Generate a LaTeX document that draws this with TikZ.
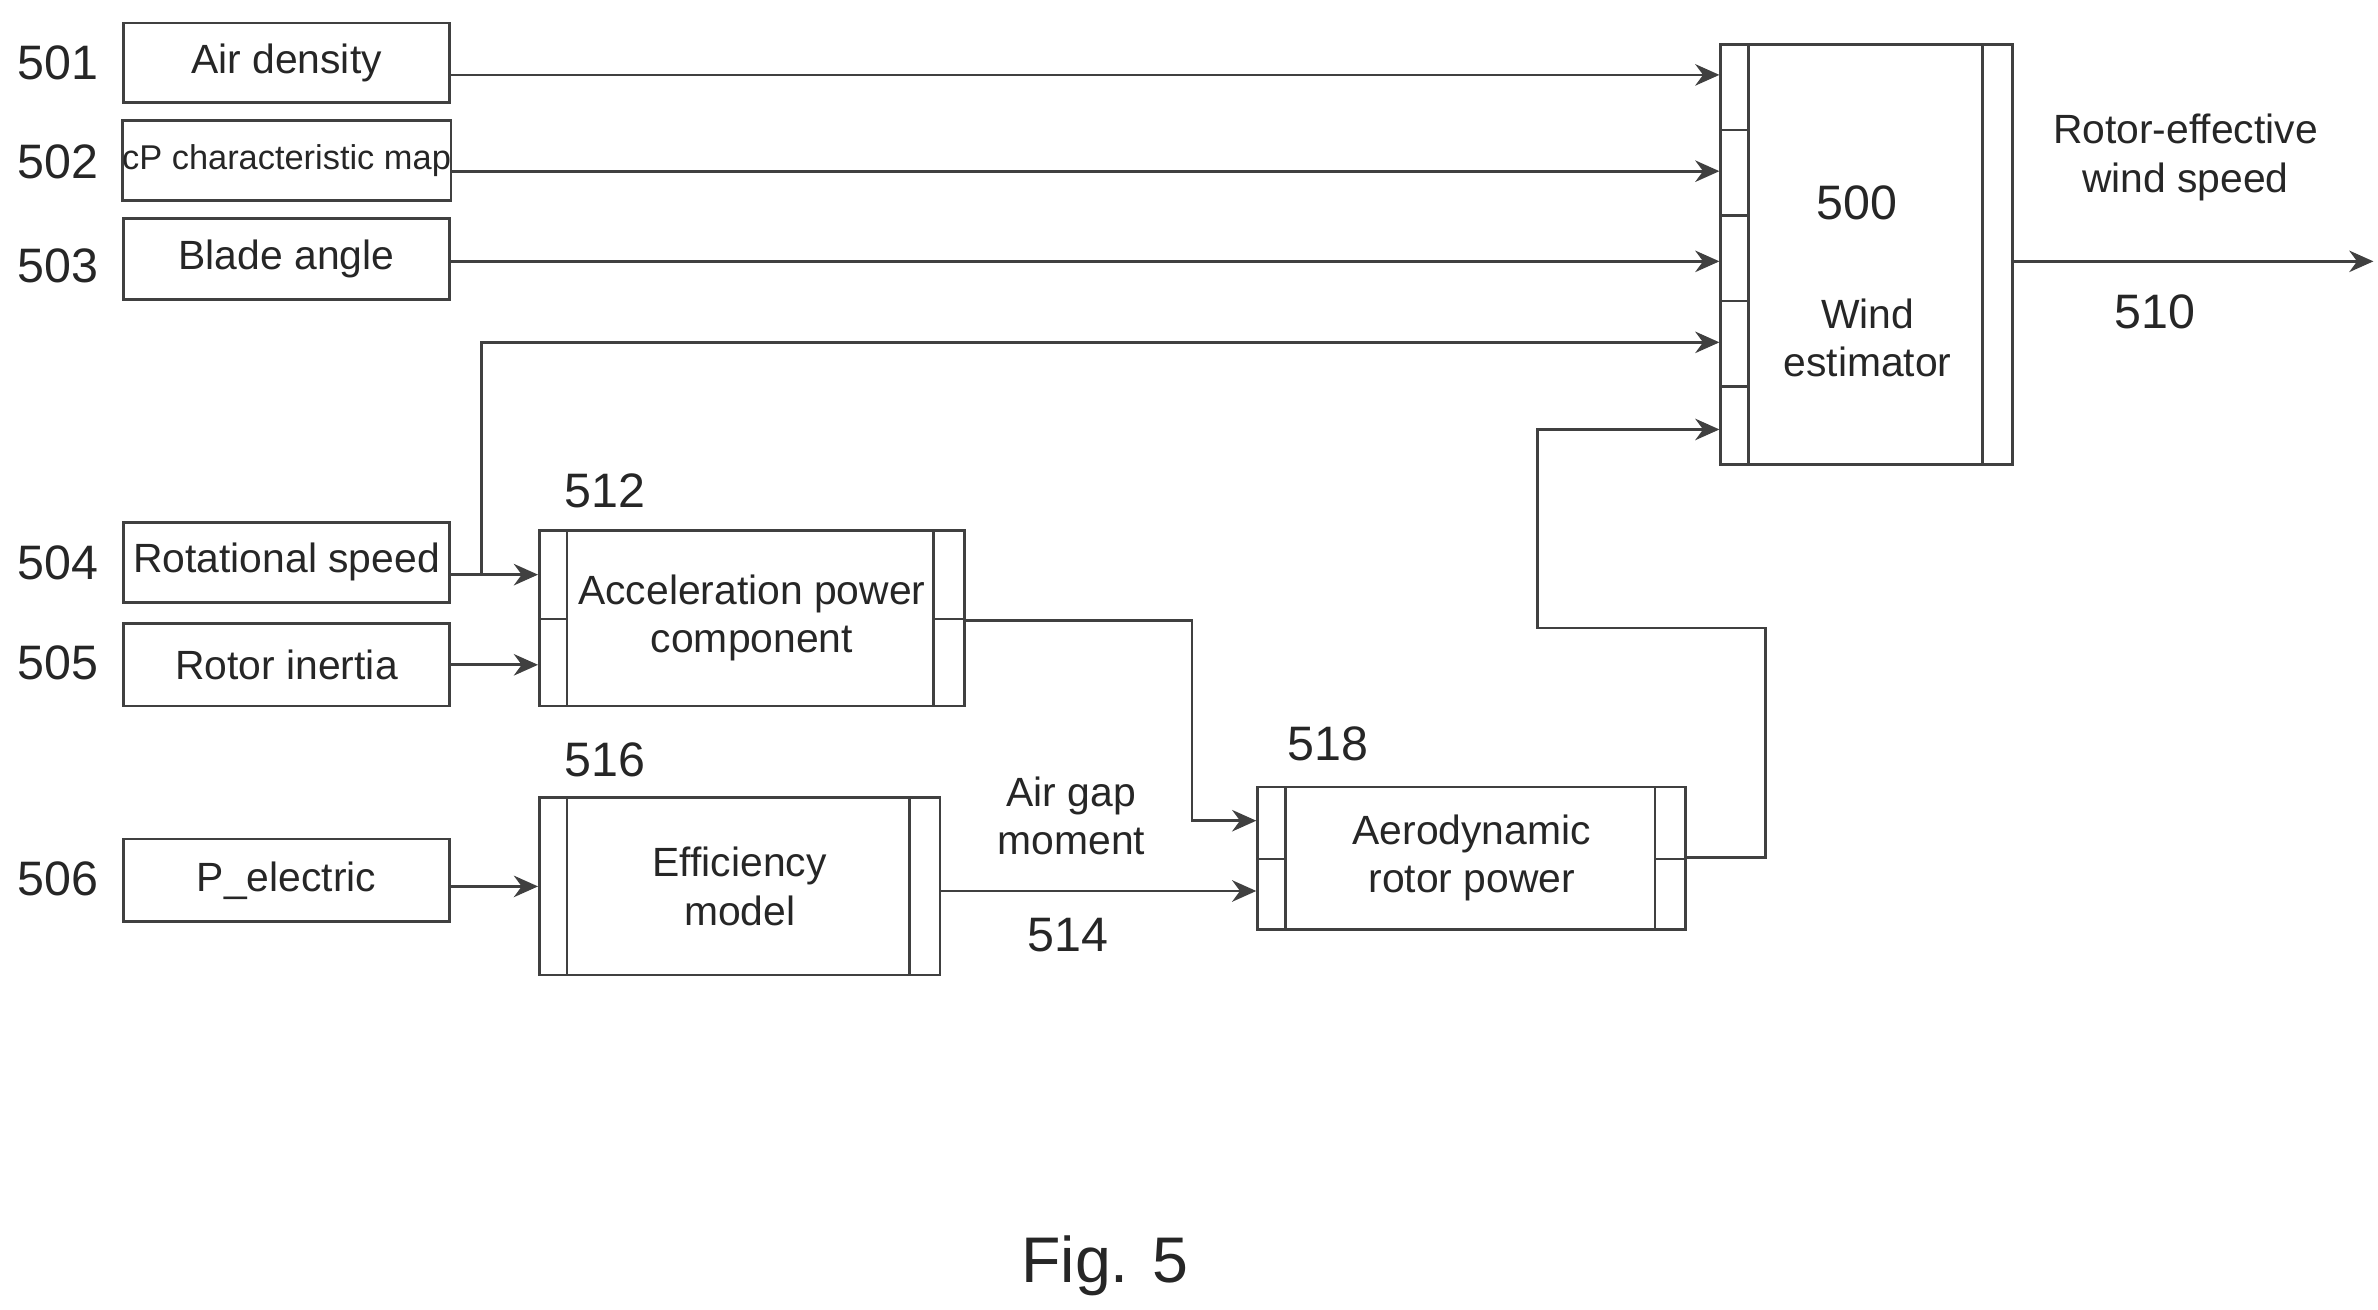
\documentclass[tikz,border=0pt]{standalone}
\usepackage{fontspec}
\setmainfont{Liberation Sans}
\usetikzlibrary{arrows.meta}

\begin{document}
\begin{tikzpicture}[x=0.01cm,y=-0.01cm,
    line width=0.5pt, draw=black!75,
    txt/.style={inner sep=0pt,font=\fontsize{7.6}{9}\selectfont,align=center,text=black!85},
    box/.style={txt,draw=black!75,rectangle},
    num/.style={font=\fontsize{9}{11}\selectfont,text=black!85},
    arr/.style={-{Stealth[length=4.5pt,width=4pt]}}]
    \useasboundingbox (0,0) rectangle (1556,857);
    \begin{scope}[every node/.style={box,minimum width=2.13cm}]
        \node[minimum height=0.52cm] (air) at (187.5,41) {Air density};
        \node[minimum height=0.52cm,font=\fontsize{6.4}{8}\selectfont] (cp) at (187.5,105) {cP characteristic map};
        \node[minimum height=0.53cm] (blade) at (187.5,169.5) {Blade angle};
        \node[minimum height=0.52cm] (rot) at (187.5,368) {Rotational speed};
        \node[minimum height=0.54cm] (inertia) at (187.5,435) {Rotor inertia};
        \node[minimum height=0.54cm] (pel) at (187.5,576) {P\_electric};
    \end{scope}
    \node[num] at (38,41) {501};
    \node[num] at (38,106) {502};
    \node[num] at (38,174) {503};
    \node[num] at (38,368) {504};
    \node[num] at (38,434) {505};
    \node[num] at (38,575) {506};
    % blocks
    \node[box,minimum width=1.91cm,minimum height=2.75cm] (wind) at (1221.5,166.5) {};
    \draw (1144,29) -- (1144,304) (1297,29) -- (1297,304);
    \foreach \y in {85,141,197,253} \draw (1126,\y) -- (1144,\y);
    \node[num] at (1215,133) {500};
    \node[txt] at (1222,221) {Wind\\estimator};
    \node[box,minimum width=2.78cm,minimum height=1.15cm] (acc) at (492,404.5) {Acceleration power\\component};
    \draw (371,347) -- (371,462) (611,347) -- (611,462) (353,405) -- (371,405) (611,405) -- (631,405);
    \node[num] at (396,321) {512};
    \node[box,minimum width=2.62cm,minimum height=1.16cm] (eff) at (484,580) {Efficiency\\model};
    \draw (371,522) -- (371,638) (595,522) -- (595,638);
    \node[num] at (396,497) {516};
    \node[box,minimum width=2.8cm,minimum height=0.93cm] (aero) at (963,561.5) {Aerodynamic\\rotor power};
    \draw (841,515) -- (841,608) (1083,515) -- (1083,608) (823,562) -- (841,562) (1083,562) -- (1103,562);
    \node[num] at (869,487) {518};
    % connectors
    \draw[arr] (air.east |- 0,49) -- (wind.west |- 0,49);
    \draw[arr] (cp.east |- 0,112) -- (wind.west |- 0,112);
    \draw[arr] (blade.east |- 0,171) -- (wind.west |- 0,171);
    \draw[arr] (rot.east |- 0,376) -- (acc.west |- 0,376);
    \draw[arr] (315,376) -- (315,224) -- (wind.west |- 0,224);
    \draw[arr] (inertia.east |- 0,435) -- (acc.west |- 0,435);
    \draw[arr] (pel.east |- 0,580) -- (eff.west |- 0,580);
    \draw[arr] (acc.east |- 0,406) -- (780,406) -- (780,537) -- (aero.west |- 0,537);
    \draw[arr] (eff.east |- 0,583) -- (aero.west |- 0,583);
    \draw[arr] (aero.east |- 0,561) -- (1155,561) -- (1155,411) -- (1006,411) -- (1006,281) -- (wind.west |- 0,281);
    \coordinate (out) at (1553,171);
    \draw[arr] (wind.east |- out) -- (out);
    \node[txt] at (701,534) {Air gap\\moment};
    \node[num] at (699,612) {514};
    \node[txt] at (1430,103) {Rotor-effective\\wind speed};
    \node[num] at (1410,204) {510};
    \node[font=\fontsize{12}{14}\selectfont,text=black!85] at (723,828) {Fig. 5};
\end{tikzpicture}
\end{document}
